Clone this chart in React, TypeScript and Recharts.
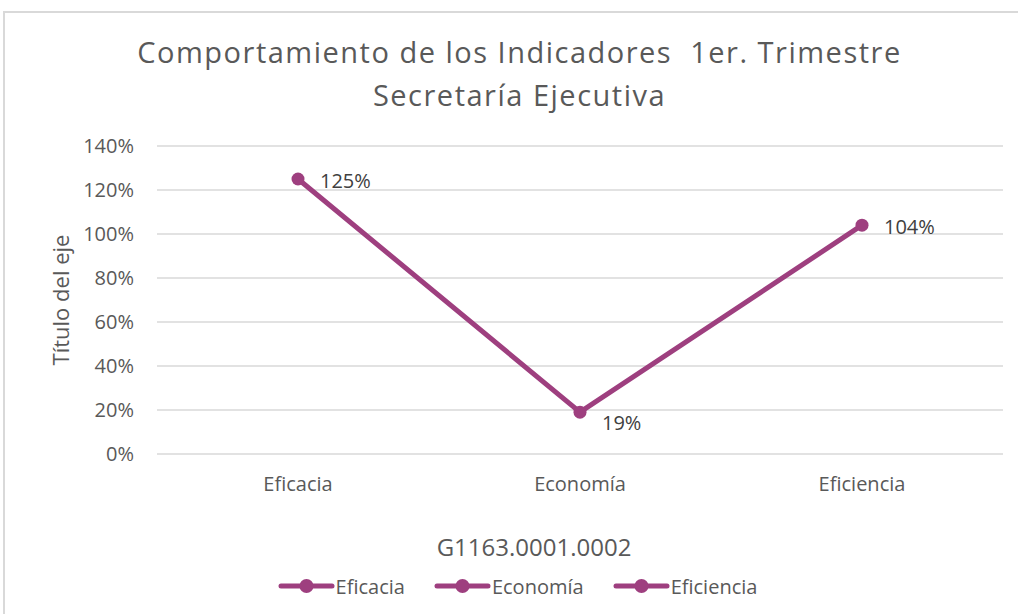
import React from 'react';
import { LineChart, Line, XAxis, YAxis, CartesianGrid, LabelList, Label } from 'recharts';

const categories = ['Eficacia', 'Economía', 'Eficiencia'];
const values = [1.25, 0.19, 1.04];
const yTicks = [0, 0.2, 0.4, 0.6, 0.8, 1.0, 1.2, 1.4];
const titleLines = ['Comportamiento de los Indicadores  1er. Trimestre', 'Secretaría Ejecutiva'];
const xAxisTitle = 'G1163.0001.0002';
const yAxisTitle = 'Título del eje';

const data = categories.map((c, i) => ({ name: c, value: values[i] }));

const COLOR = '#9E3F7F';
const TEXT = '#595959';
const FONT = '"Open Sans", sans-serif';

const pct = (v: number) => `${Math.round(v * 100)}%`;

const DataLabel = (props: any) => {
  const { x, y, value, index } = props;
  const minIdx = values.indexOf(Math.min(...values));
  const dy = index === minIdx ? 10 : 1;
  return (
    <text x={x + 22} y={y + dy} dominantBaseline="central" fontSize={20} fill="#404040" fontFamily={FONT}>
      {pct(value)}
    </text>
  );
};

const YTitle = (props: any) => {
  const vb = props.viewBox || {};
  const bx = vb.x + 32;
  const cy = vb.y + vb.height / 2;
  return (
    <text x={bx} y={cy} transform={`rotate(-90 ${bx} ${cy})`} textAnchor="middle" fontSize={22} fill={TEXT} fontFamily={FONT}>
      {yAxisTitle}
    </text>
  );
};

const LegendIcon = () => (
  <svg width={57} height={16} style={{ display: 'block' }}>
    <line x1={3} y1={8} x2={54} y2={8} stroke={COLOR} strokeWidth={5} strokeLinecap="round" />
    <circle cx={28.5} cy={8} r={7} fill={COLOR} />
  </svg>
);

export default function App() {
  return (
    <div style={{ position: 'absolute', left: 0, top: 0, width: 1018, height: 614, overflow: 'hidden', background: '#fff', fontFamily: FONT }}>
      <div style={{ position: 'absolute', left: 3, top: 11, width: 1100, height: 700, border: '2px solid #d9d9d9', boxSizing: 'border-box' }} />
      <div style={{ position: 'absolute', left: 0, top: 30, width: 1039, textAlign: 'center', color: TEXT, fontSize: 29, letterSpacing: 1.5, lineHeight: '43px', whiteSpace: 'pre' }}>
        {titleLines.map((t, i) => (
          <div key={i}>{t}</div>
        ))}
      </div>
      <div style={{ position: 'absolute', left: 0, top: 0 }}>
        <LineChart width={1018} height={614} data={data} margin={{ top: 146, right: 15, bottom: 60, left: 37 }}>
          <CartesianGrid horizontal vertical={false} stroke="#d9d9d9" strokeWidth={1.5} />
          <XAxis
            dataKey="name"
            axisLine={false}
            tickLine={false}
            tickSize={0}
            tickMargin={23}
            height={100}
            padding={{ left: 141, right: 141 }}
            tick={{ fontSize: 20, fill: TEXT, fontFamily: FONT }}
          >
            <Label value={xAxisTitle} position="insideTop" offset={85} dx={-46} fontSize={24} fill={TEXT} fontFamily={FONT} />
          </XAxis>
          <YAxis
            domain={[0, 1.4]}
            ticks={yTicks}
            tickFormatter={pct}
            axisLine={false}
            tickLine={false}
            tickSize={0}
            tickMargin={23}
            width={120}
            tick={{ fontSize: 20, fill: TEXT, fontFamily: FONT }}
          >
            <Label content={<YTitle />} />
          </YAxis>
          <Line
            type="linear"
            dataKey="value"
            stroke={COLOR}
            strokeWidth={5}
            dot={{ r: 6.5, fill: COLOR, stroke: COLOR, strokeWidth: 0 }}
            isAnimationActive={false}
          >
            <LabelList dataKey="value" content={<DataLabel />} />
          </Line>
        </LineChart>
      </div>
      <div style={{ position: 'absolute', left: 0, top: 572, width: 1035, height: 28, display: 'flex', justifyContent: 'center', alignItems: 'center', gap: 29, color: TEXT, fontSize: 20 }}>
        {categories.map((c) => (
          <div key={c} style={{ display: 'flex', alignItems: 'center', gap: 1 }}>
            <LegendIcon />
            <span>{c}</span>
          </div>
        ))}
      </div>
    </div>
  );
}
